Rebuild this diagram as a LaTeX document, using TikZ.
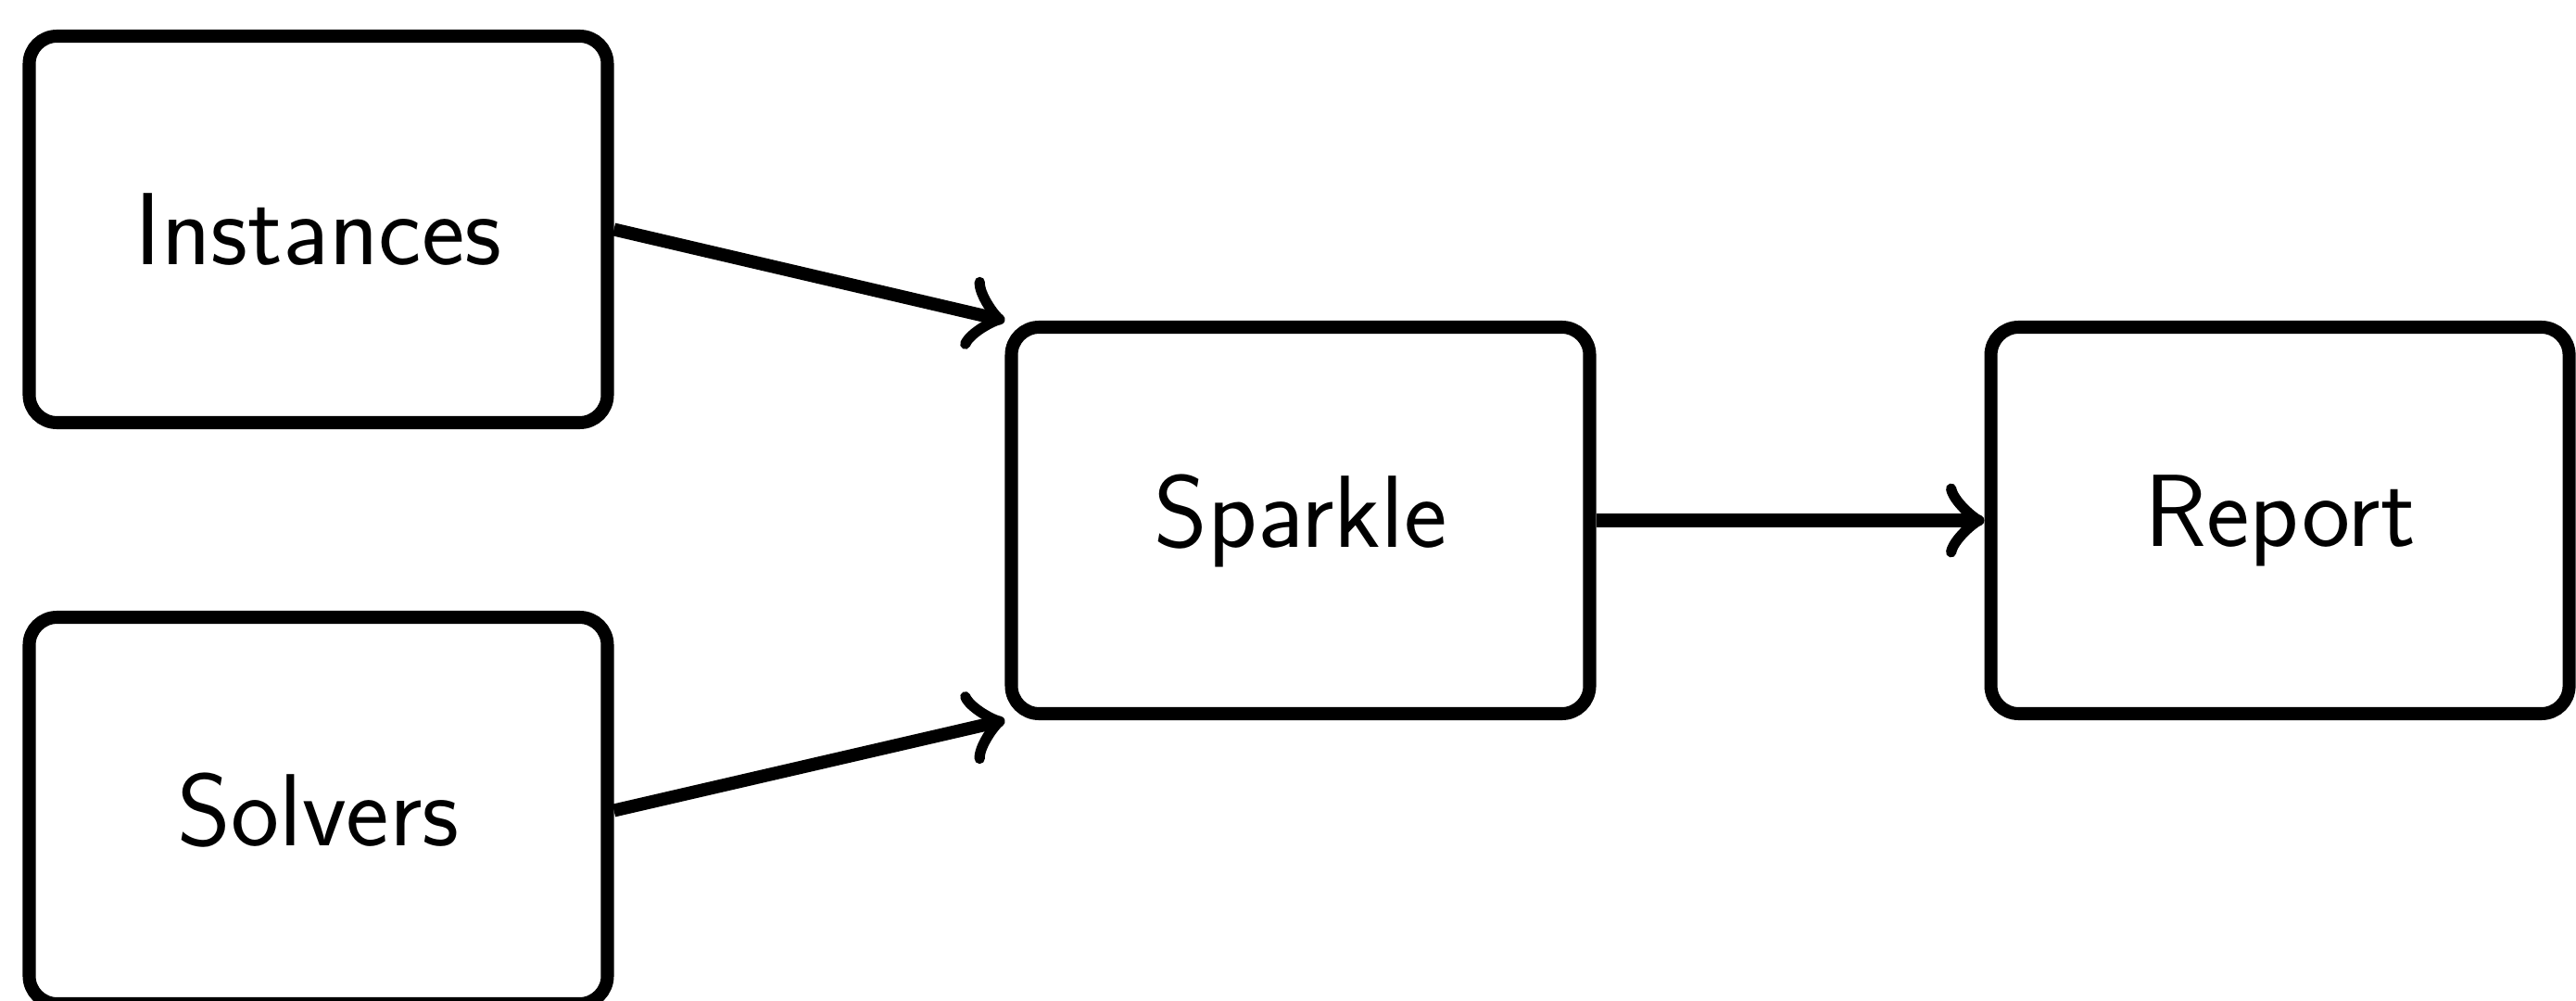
\documentclass[tikz,border=0pt]{standalone}
\usepackage{tikz}
\usetikzlibrary{positioning,arrows.meta}
\tikzset{
  block/.style={draw,rectangle,rounded corners=0.3cm,line width=4pt,
    minimum width=6.24cm,minimum height=4.17cm,
    font=\sffamily\fontsize{31.5}{36}\selectfont},
  flow/.style={-{Classical TikZ Rightarrow[scale=1.35]},line width=4pt}
}
\begin{document}
\begin{tikzpicture}
  \useasboundingbox (0,0) rectangle (27.8,10.79);
  % inputs on the left, tool in the middle, output on the right
  \node[block] (instances) at (3.435,8.315) {Instances};
  \node[block] (solvers) at (3.435,2.045) {Solvers};
  \node[block] (sparkle) at (14.035,5.175) {Sparkle};
  \node[block,right=4.19cm of sparkle] (report) {Report};
  \draw[flow] (instances.east) -- (sparkle.north west);
  \draw[flow] (solvers.east) -- (sparkle.south west);
  \draw[flow] (sparkle.east) -- (report.west);
\end{tikzpicture}
\end{document}
